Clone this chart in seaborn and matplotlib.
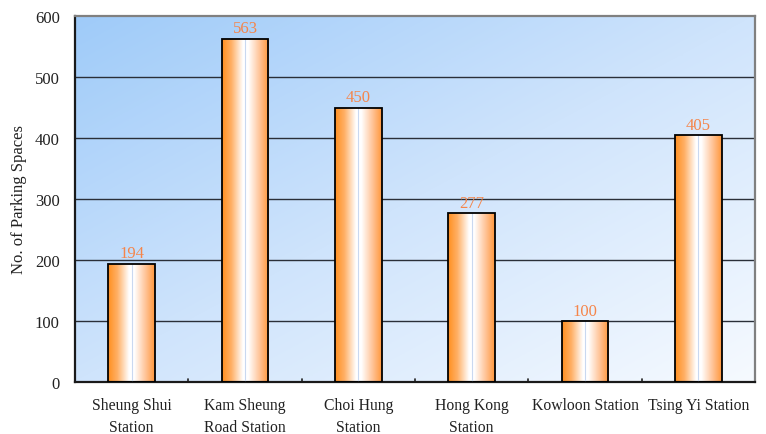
import numpy as np
import pandas as pd
import matplotlib
matplotlib.use("Agg")
import matplotlib.pyplot as plt
from matplotlib.colors import LinearSegmentedColormap
import seaborn as sns

stations = ["Sheung Shui\nStation", "Kam Sheung\nRoad Station", "Choi Hung\nStation",
            "Hong Kong\nStation", "Kowloon Station", "Tsing Yi Station"]
spaces = [194, 563, 450, 277, 100, 405]
y_ticks = [0, 100, 200, 300, 400, 500, 600]

sns.set_theme(style="white")
plt.rcParams["font.family"] = ["Liberation Serif", "DejaVu Serif"]

df = pd.DataFrame({"station": stations, "spaces": spaces})

fig = plt.figure(figsize=(7.66, 4.35), dpi=100)
ax = fig.add_axes([75 / 766, 52 / 435, 680 / 766, 366 / 435])

# diagonal blue-to-white backdrop (blue at top-left, near white at bottom-right)
gx, gy = np.meshgrid(np.linspace(0, 1, 256), np.linspace(0, 1, 256))
t = np.clip((gx + gy) / 2.0, 0, 1)
bg_cmap = LinearSegmentedColormap.from_list("bg", ["#9fcbf9", "#cfe4fc", "#f6faff"])
ax.imshow(t, cmap=bg_cmap, extent=[0, 1, 0, 1], transform=ax.transAxes,
          aspect="auto", origin="upper", zorder=0, interpolation="bilinear")

sns.barplot(data=df, x="station", y="spaces", ax=ax, width=0.41,
            color="#ff9a33", edgecolor="black", linewidth=1.3, zorder=3)

# horizontal cylinder-like shading on each bar
bar_cmap = LinearSegmentedColormap.from_list(
    "bar", [(0.0, "#ff8f1f"), (0.2, "#ffb066"), (0.45, "#ffffff"), (0.56, "#ffffff"),
            (0.8, "#ffc498"), (1.0, "#ff973a")])
grad = np.linspace(0, 1, 256).reshape(1, -1)
for patch in list(ax.patches):
    x0, w, h = patch.get_x(), patch.get_width(), patch.get_height()
    patch.set_facecolor("none")
    im = ax.imshow(grad, cmap=bar_cmap, extent=[x0, x0 + w, 0, h],
                   aspect="auto", zorder=2.5, interpolation="bilinear")
    im.set_clip_path(patch)
    ax.plot([x0 + w / 2, x0 + w / 2], [0, h], color="#c9d8f0", lw=0.8, zorder=2.7)

ax.set_aspect("auto")
ax.set_xlim(-0.5, len(stations) - 0.5)
ax.set_ylim(0, 600)

for i, v in enumerate(spaces):
    ax.text(i, v + 4, str(v), ha="center", va="bottom", color="#f5854a",
            fontsize=12, zorder=4)

for yv in y_ticks[1:-1]:
    ax.axhline(yv, color="#2a2f38", lw=1.0, zorder=1)

ax.set_yticks(y_ticks)
ax.set_yticklabels([str(v) for v in y_ticks], fontsize=12, color="#222222")
ax.tick_params(axis="y", length=3, width=1, color="#333333", direction="out", pad=8)
ax.set_xticks(range(len(stations)))
ax.set_xticklabels(stations, fontsize=11.3, color="#222222", linespacing=1.45)
ax.tick_params(axis="x", length=0, pad=11)
for b in np.arange(0.5, len(stations) - 0.5, 1.0):
    ax.plot([b, b], [0, 5], color="#222222", lw=1.2, zorder=1.5)

ax.set_xlabel("")
ax.set_ylabel("No. of Parking Spaces", fontsize=12, color="#222222", labelpad=6)

for side in ["left", "bottom"]:
    ax.spines[side].set_color("#1a1a1a")
    ax.spines[side].set_linewidth(1.6)
for side in ["top", "right"]:
    ax.spines[side].set_color("#808080")
    ax.spines[side].set_linewidth(1.6)
    ax.spines[side].set_visible(True)

fig.savefig("out.png", dpi=100, facecolor="white")
